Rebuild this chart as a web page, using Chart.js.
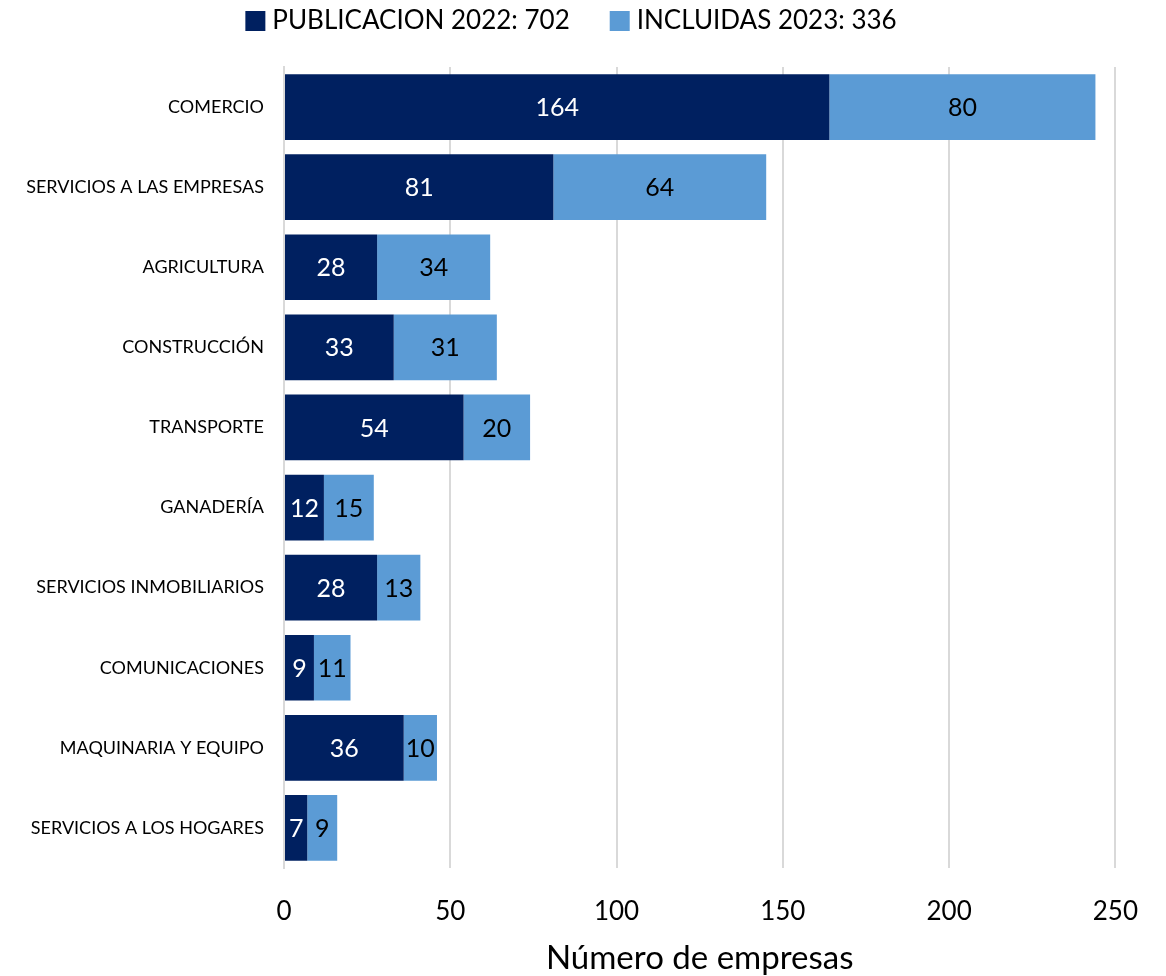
<!DOCTYPE html>
<html>
<head>
<meta charset="utf-8">
<script src="https://cdn.jsdelivr.net/npm/chart.js@4"></script>
<style>
  body { margin: 0; background: #fff; }
  #wrap { width: 1166px; height: 976px; }
</style>
</head>
<body>
<div id="wrap"><canvas id="sectorChart"></canvas></div>
<script>
const categories = ['COMERCIO', 'SERVICIOS A LAS EMPRESAS', 'AGRICULTURA', 'CONSTRUCCIÓN', 'TRANSPORTE',
    'GANADERÍA', 'SERVICIOS INMOBILIARIOS', 'COMUNICACIONES', 'MAQUINARIA Y EQUIPO', 'SERVICIOS A LOS HOGARES'];
const publicacion2022 = [164, 81, 28, 33, 54, 12, 28, 9, 36, 7];
const incluidas2023 = [80, 64, 34, 31, 20, 15, 13, 11, 10, 9];
const seriesNames = ['PUBLICACION 2022: 702', 'INCLUIDAS 2023: 336'];
const xTicks = [0, 50, 100, 150, 200, 250];

const FONT = 'Lato, "Open Sans", sans-serif';

// values written in the middle of each segment
const barLabels = {
    id: 'barLabels',
    afterDatasetsDraw(chart) {
        const ctx = chart.ctx;
        ctx.save();
        ctx.font = '25px ' + FONT;
        ctx.textAlign = 'center';
        ctx.textBaseline = 'middle';
        chart.data.datasets.forEach((ds, i) => {
            chart.getDatasetMeta(i).data.forEach((bar, j) => {
                const p = bar.getProps(['x', 'y', 'base'], true);
                ctx.fillStyle = i === 0 ? '#ffffff' : '#000000';
                ctx.fillText(ds.data[j], (p.x + p.base) / 2, p.y + 1);
            });
        });
        ctx.restore();
    }
};

// legend drawn by hand so spacing matches
const topLegend = {
    id: 'topLegend',
    afterDraw(chart) {
        const ctx = chart.ctx;
        ctx.save();
        ctx.font = '26px ' + FONT;
        ctx.textBaseline = 'middle';
        const box = 20, gapText = 7, gapItem = 40;
        const widths = chart.data.datasets.map(ds => box + gapText + ctx.measureText(ds.label).width);
        const total = widths.reduce((a, b) => a + b, 0) + gapItem * (widths.length - 1);
        let x = (chart.width - total) / 2 - 12;
        const y = 21;
        chart.data.datasets.forEach((ds, i) => {
            ctx.fillStyle = ds.backgroundColor;
            ctx.fillRect(x, y - box / 2, box, box);
            ctx.fillStyle = '#000';
            ctx.fillText(ds.label, x + box + gapText, y);
            x += widths[i] + gapItem;
        });
        ctx.restore();
    }
};

const ctx = document.getElementById('sectorChart').getContext('2d');
const sectorChart = new Chart(ctx, {
    type: 'bar',
    data: {
        labels: categories,
        datasets: [{
            label: seriesNames[0],
            data: publicacion2022,
            backgroundColor: '#002060',
            categoryPercentage: 0.82,
            barPercentage: 1.0
        },
        {
            label: seriesNames[1],
            data: incluidas2023,
            backgroundColor: '#5b9bd5',
            categoryPercentage: 0.82,
            barPercentage: 1.0
        }]
    },
    options: {
        indexAxis: 'y',
        responsive: true,
        maintainAspectRatio: false,
        animation: false,
        layout: {
            padding: { top: 67, right: 49, bottom: 0, left: 0 }
        },
        plugins: {
            legend: { display: false },
            tooltip: { enabled: false }
        },
        scales: {
            x: {
                stacked: true,
                min: 0,
                max: 250,
                afterBuildTicks: (scale) => { scale.ticks = xTicks.map(v => ({ value: v })); },
                afterFit: (scale) => { scale.height = 108; },
                grid: { color: '#d9d9d9', lineWidth: 2, drawTicks: false },
                border: { display: false },
                ticks: { color: '#000', font: { family: FONT, size: 26 }, padding: 28 },
                title: {
                    display: true,
                    text: 'Número de empresas',
                    color: '#000',
                    font: { family: FONT, size: 33 },
                    padding: { top: 0, bottom: -2 }
                }
            },
            y: {
                stacked: true,
                afterFit: (scale) => { scale.width = 284; },
                grid: { display: false },
                border: { display: true, color: '#d9d9d9', width: 2 },
                ticks: { color: '#000', font: { family: FONT, size: 18 }, padding: 12 }
            }
        }
    },
    plugins: [barLabels, topLegend]
});
</script>
</body>
</html>
